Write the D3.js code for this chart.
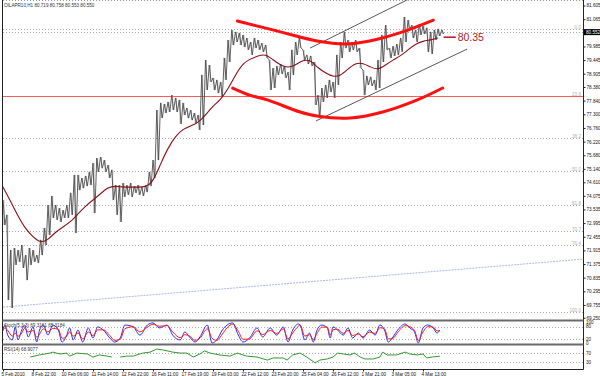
<!DOCTYPE html>
<html><head><meta charset="utf-8">
<script src="https://cdn.jsdelivr.net/npm/d3@7"></script>
<style>
body{margin:0;background:#fff;}
svg{display:block;font-family:"Liberation Sans",Arial,sans-serif;}
</style></head>
<body><svg id="c" width="600" height="376"></svg>
<script>
// ---------------- DATA ----------------
const symbolTitle = "OILAPR10,H1  80.719 80.758 80.553 80.550";
const barsPerSample = 4;   // price samples every 4 hourly bars
const priceHigh = [73.91,73.32,71.93,72.01,71.93,72.13,71.73,72.01,71.93,71.73,
72.33,72.80,73.71,74.07,73.71,73.59,73.51,73.71,74.19,74.90,
74.90,74.78,74.86,75.02,75.37,75.57,75.61,75.49,75.29,75.10,
74.50,74.50,74.58,74.50,74.58,74.46,74.50,74.42,74.50,75.02,
75.49,77.47,77.75,77.71,77.79,78.06,77.95,77.87,77.75,77.55,
77.47,77.35,77.27,78.86,79.45,79.25,78.74,78.66,78.58,79.53,
80.24,80.64,80.56,80.52,80.44,80.32,80.16,80.32,80.24,80.12,
80.04,79.45,79.13,79.21,79.29,79.21,78.97,79.85,80.16,80.32,
79.85,79.65,79.61,79.37,78.06,78.34,78.46,78.66,78.58,79.65,
80.16,80.56,80.24,80.16,80.24,79.92,79.05,78.82,78.78,78.66,
79.45,80.44,80.83,79.92,80.00,80.08,80.32,81.15,81.03,80.83,
80.64,80.87,80.79,80.72,80.56,80.64,80.68,80.64];
const priceLow = [72.92,69.95,69.64,71.34,71.46,71.22,70.74,71.34,71.46,71.42,
71.73,72.13,72.52,73.20,73.12,73.04,73.20,73.20,73.32,72.60,
74.30,74.38,74.46,74.50,73.39,75.02,75.17,75.02,74.78,73.91,
73.32,73.04,74.03,74.11,74.03,74.19,74.11,74.07,74.22,74.46,
74.78,75.49,77.15,77.35,77.39,77.47,77.39,76.92,77.27,77.15,
77.07,76.96,76.68,76.88,78.26,78.58,78.26,78.14,77.98,78.66,
79.37,80.04,80.16,80.04,79.96,79.85,79.65,79.92,79.85,79.77,
79.53,78.26,78.34,78.86,78.90,78.74,78.26,78.86,79.65,79.92,
79.45,79.29,79.21,77.67,77.15,77.79,77.95,78.18,77.95,78.46,
79.53,79.92,79.77,79.85,79.77,79.13,78.06,78.46,78.42,78.26,
78.34,79.37,79.85,79.53,79.61,79.65,79.77,80.16,80.64,80.32,
80.16,80.44,80.48,79.77,79.69,80.24,80.40,80.48];
const maBarsPerSample = 8;
const movingAvg = [74.42,73.87,73.27,72.76,72.45,72.21,72.33,72.64,72.84,73.04,
73.36,73.67,73.91,74.15,74.42,74.46,74.42,74.42,74.42,74.42,
74.62,75.33,75.97,76.44,76.72,76.84,76.96,77.27,77.63,77.87,
78.30,78.86,79.33,79.49,79.61,79.69,79.45,79.25,79.13,79.25,
79.45,79.45,79.13,78.94,78.78,78.82,79.09,79.33,79.33,79.17,
79.05,79.25,79.45,79.61,79.85,80.08,80.20,80.24,80.32];
const maLabel = "80.35";
const maLabelValue = 80.35;
const currentPrice = 80.552;

const priceTicks = [81.605,81.065,79.985,79.445,78.905,78.380,77.840,77.300,76.760,76.220,
75.680,75.140,74.610,74.075,73.535,72.995,72.455,71.915,71.375,70.835,70.295,69.755,69.250];

const fibValues = [80.68,78.03,76.38,75.06,73.73,72.68,72.11,69.46];
const fibLabels = ["0.0","23.6","38.2","50.0","61.8","70.7","76.4","100.0"];

const dateBars = [0,32,64,96,128,160,192,224,256,288,320,352,384,416,448];
const dateLabels = ["5 Feb 2010","8 Feb 22:00","10 Feb 06:00","11 Feb 14:00","12 Feb 22:00",
"16 Feb 11:00","17 Feb 19:00","19 Feb 03:00","22 Feb 12:00","23 Feb 20:00",
"25 Feb 04:00","26 Feb 12:00","1 Mar 21:00","3 Mar 05:00","4 Mar 13:00"];

// drawn annotations (bar index, price)
const upperArcBars = [250,292,335,365,391,423,459];
const upperArcPrices = [80.99,80.60,80.20,80.08,80.20,80.52,81.03];
const lowerArcBars = [245,263,282,317,335,370,405,442,469];
const lowerArcPrices = [78.34,78.06,77.87,77.39,77.23,77.15,77.39,77.87,78.34];
const channelUpperBars = [327.5,434];
const channelUpperPrices = [79.92,81.88];
const channelLowerBars = [334,495];
const channelLowerPrices = [77.04,79.88];
const trendBars = [0,618.7];
const trendPrices = [69.67,71.57];

// stochastic
const stochTitle = "Stoch(5,3,3) 69.3161 65.3184";
const stochBars = [0,2,5,10,13,16,20,23,27,32,36,39,43,48,53,59,63,68,71,75,80,85,91,96,101,107,114,119,125,130,
139,146,154,160,167,175,181,189,194,199,205,210,218,223,228,234,239,245,251,256,263,271,277,285,292,299,304,309,315,317,
322,327,331,335,340,346,349,352,357,363,368,373,379,384,391,397,402,407,411,416,421,429,434,439,443,448,453,459,463,466];
const stochMain = [64,88,40,17,79,17,64,88,31,79,7,64,88,40,88,64,7,40,74,17,64,7,74,26,79,64,26,7,26,88,
79,40,88,98,74,88,40,17,55,31,7,31,88,2,17,64,88,98,40,7,26,74,31,74,40,79,7,64,93,88,
17,50,7,64,88,74,26,79,64,40,74,26,50,26,64,40,88,64,7,31,64,93,74,55,2,74,88,74,50,64];
const stochSignal = [60,75,62,35,50,35,50,72,55,62,30,45,70,55,72,68,25,35,55,35,50,22,55,38,65,65,38,15,20,70,
80,55,78,92,82,85,55,28,42,35,15,25,70,25,15,45,75,92,58,20,22,60,42,62,48,70,22,50,82,88,
35,42,18,48,78,78,40,65,68,48,62,38,45,32,55,48,75,70,22,25,52,85,80,62,15,55,80,78,60,62];
const stochLevels = [80,20];
const stochAxis = [100,80,20,0];

// RSI
const rsiTitle = "RSI(14) 68.9077";
const rsiBars = [29,39,50,53,61,68,71,79,90,96,103,111,116,120,125,132,139,149,157,164,171,181,189,196,203,210,215,221,231,242,
250,260,271,282,288,299,303,309,317,324,333,338,346,352,357,363,370,375,381,386,395,402,405,410,420,429,434,442,448,452,458,466];
const rsiValues = [53,62,70,74,66,70,57,70,66,53,62,57,53,null,53,57,57,70,74,87,83,74,70,70,53,66,79,70,62,57,
70,57,53,40,49,49,40,62,70,53,28,40,45,53,70,66,62,70,53,45,45,53,74,62,62,74,66,62,66,49,53,57];
const rsiLevels = [70,30];

// ---------------- DRAW ----------------
const svg = d3.select("#c");
const L = 3, R = 583;
const x = d3.scaleLinear().domain([0, 618.7]).range([L, R]);
const y = d3.scaleLinear().domain([69.2, 81.823]).range([319, 0]);
const yS = d3.scaleLinear().domain([0, 100]).range([343.5, 322.5]);
const yR = d3.scaleLinear().domain([0, 100]).range([369.5, 346]);
const FS = "4.6px";

const defs = svg.append("defs");
defs.append("clipPath").attr("id","cm").append("rect").attr("x",L).attr("y",0).attr("width",R-L).attr("height",319.5);
defs.append("clipPath").attr("id","cs").append("rect").attr("x",L).attr("y",321.5).attr("width",R-L).attr("height",22.5);
defs.append("clipPath").attr("id","cr").append("rect").attr("x",L).attr("y",345.5).attr("width",R-L).attr("height",23.5);

const main = svg.append("g").attr("clip-path","url(#cm)");

// top dotted line
main.append("line").attr("x1",L).attr("x2",R).attr("y1",0.5).attr("y2",0.5)
  .attr("stroke","#999").attr("stroke-dasharray","1,2");

// fib levels
fibValues.forEach((v,i)=>{
  const isRed = fibLabels[i]==="23.6";
  main.append("line").attr("x1",L).attr("x2",R).attr("y1",Math.round(y(v))+0.5).attr("y2",Math.round(y(v))+0.5)
    .attr("stroke", isRed ? "#ff3030" : "#aaa")
    .attr("stroke-dasharray", isRed ? null : "1,2").attr("stroke-width",isRed ? 0.8 : 1);
  main.append("text").attr("x",R-2).attr("y",Math.round(y(v))-0.5).attr("text-anchor","end")
    .attr("font-size",FS).attr("fill","#b0b0b0").text(fibLabels[i]);
});
// current price line
main.append("line").attr("x1",L).attr("x2",R).attr("y1",Math.round(y(currentPrice))+0.5).attr("y2",Math.round(y(currentPrice))+0.5)
  .attr("stroke","#aaa").attr("stroke-dasharray","1,2");

// trend line (lavender)
main.append("line").attr("x1",x(trendBars[0])).attr("y1",y(trendPrices[0]))
  .attr("x2",x(trendBars[1])).attr("y2",y(trendPrices[1]))
  .attr("stroke","#aeb4f2").attr("stroke-width",1).attr("stroke-dasharray","2,1");

// price bars (dense H1 bars as zig-zag between highs and lows)
const zz = [];
priceHigh.forEach((h,i)=>{
  const b = i*barsPerSample;
  zz.push([x(b), y(h)]);
  zz.push([x(b+2), y(priceLow[i])]);
});
main.selectAll("line.bar").data(priceHigh).join("line").attr("class","bar")
  .attr("x1",(d,i)=>x(i*barsPerSample+1)).attr("x2",(d,i)=>x(i*barsPerSample+1))
  .attr("y1",d=>y(d)).attr("y2",(d,i)=>y(priceLow[i]))
  .attr("stroke","#8a8a8a").attr("stroke-width",0.7);
main.append("path").attr("d", d3.line()(zz)).attr("fill","none")
  .attr("stroke","#4e4e4e").attr("stroke-width",0.9);

// moving average
main.append("path").datum(movingAvg)
  .attr("d", d3.line().x((d,i)=>x(i*maBarsPerSample)).y(d=>y(d)).curve(d3.curveBasis))
  .attr("fill","none").attr("stroke","#8b0f14").attr("stroke-width",1.1);

// channel lines
[[channelUpperBars,channelUpperPrices],[channelLowerBars,channelLowerPrices]].forEach(([b,p])=>{
  main.append("line").attr("x1",x(b[0])).attr("y1",y(p[0])).attr("x2",x(b[1])).attr("y2",y(p[1]))
    .attr("stroke","#444").attr("stroke-width",0.9);
});

// red arcs
[[upperArcBars,upperArcPrices],[lowerArcBars,lowerArcPrices]].forEach(([b,p])=>{
  main.append("path").datum(b.map((v,i)=>[x(v),y(p[i])]))
    .attr("d", d3.line().curve(d3.curveCatmullRom))
    .attr("fill","none").attr("stroke","#ff1010").attr("stroke-width",3).attr("stroke-linecap","round");
});

// MA label
const lastMA = (movingAvg.length-1)*maBarsPerSample;
svg.append("line").attr("x1",x(lastMA+6)).attr("x2",x(lastMA+19)).attr("y1",y(maLabelValue)).attr("y2",y(maLabelValue))
  .attr("stroke","#b0202c").attr("stroke-width",1.6);
svg.append("text").attr("x",x(lastMA+21)).attr("y",y(maLabelValue)+4)
  .attr("font-size","10.5px").attr("fill","#b0202c").text(maLabel);

// title
svg.append("text").attr("x",4).attr("y",6.5).attr("font-size",FS).attr("fill","#333").text(symbolTitle);

// ---------- stochastic panel ----------
const st = svg.append("g");
stochLevels.forEach(v=>{
  st.append("line").attr("x1",L).attr("x2",R).attr("y1",Math.round(yS(v))+0.5).attr("y2",Math.round(yS(v))+0.5)
    .attr("stroke","#aaa").attr("stroke-dasharray","1,2");
});
const stg = st.append("g").attr("clip-path","url(#cs)");
stg.append("path").datum(stochMain)
  .attr("d", d3.line().x((d,i)=>x(stochBars[i])).y(d=>yS(d)).curve(d3.curveMonotoneX))
  .attr("fill","none").attr("stroke","#2a2aff").attr("stroke-width",1);
stg.append("path").datum(stochSignal)
  .attr("d", d3.line().x((d,i)=>x(stochBars[i])).y(d=>yS(d)).curve(d3.curveMonotoneX))
  .attr("fill","none").attr("stroke","#ff1a1a").attr("stroke-width",1);
st.append("text").attr("x",4).attr("y",326.5).attr("font-size",FS).attr("fill","#333").text(stochTitle);

// ---------- RSI panel ----------
const rs = svg.append("g");
rsiLevels.forEach(v=>{
  rs.append("line").attr("x1",L).attr("x2",R).attr("y1",Math.round(yR(v))+0.5).attr("y2",Math.round(yR(v))+0.5)
    .attr("stroke","#aaa").attr("stroke-dasharray","1,2");
});
rs.append("g").attr("clip-path","url(#cr)").append("path").datum(rsiValues)
  .attr("d", d3.line().defined(d=>d!==null).x((d,i)=>x(rsiBars[i])).y(d=>yR(d)))
  .attr("fill","none").attr("stroke","#2f9a2f").attr("stroke-width",1);
rs.append("text").attr("x",4).attr("y",350.5).attr("font-size",FS).attr("fill","#333").text(rsiTitle);

// ---------- frames ----------
svg.append("line").attr("x1",2.5).attr("x2",2.5).attr("y1",0).attr("y2",369.5).attr("stroke","#222");
svg.append("line").attr("x1",R+0.5).attr("x2",R+0.5).attr("y1",0).attr("y2",369.5).attr("stroke","#222");
[320.5,344.5].forEach(v=>{
  svg.append("line").attr("x1",2.5).attr("x2",R+0.5).attr("y1",v).attr("y2",v).attr("stroke","#6a6a6a").attr("stroke-width",2);
});
svg.append("line").attr("x1",2.5).attr("x2",R+0.5).attr("y1",369.5).attr("y2",369.5).attr("stroke","#222");

// ---------- axes ----------
const ax = svg.append("g").attr("transform",`translate(${R+0.5},0)`)
  .call(d3.axisRight(y).tickValues(priceTicks).tickFormat(d=>d.toFixed(3)).tickSize(2).tickPadding(1));
ax.select(".domain").remove();
ax.selectAll("text").attr("font-size",FS).attr("fill","#111").attr("font-family","Liberation Sans, Arial, sans-serif");
ax.selectAll("line").attr("stroke","#222");

// current price tag
svg.append("rect").attr("x",R+1).attr("y",y(currentPrice)-3).attr("width",16).attr("height",6).attr("fill","#000");
svg.append("text").attr("x",R+3).attr("y",y(currentPrice)+1.6).attr("font-size",FS).attr("fill","#fff").text(currentPrice.toFixed(3));

// indicator axes
stochAxis.forEach(v=>{
  svg.append("text").attr("x",R+3).attr("y",yS(v)+1.6).attr("font-size",FS).attr("fill","#111").text(v);
});
rsiLevels.forEach(v=>{
  svg.append("text").attr("x",R+3).attr("y",yR(v)+1.6).attr("font-size",FS).attr("fill","#111").text(v);
});

// date axis
const dx = svg.append("g").attr("transform","translate(0,369.5)")
  .call(d3.axisBottom(x).tickValues(dateBars).tickFormat((d,i)=>dateLabels[i]).tickSize(2).tickPadding(1));
dx.select(".domain").remove();
dx.selectAll("text").attr("font-size",FS).attr("fill","#111").attr("text-anchor","start")
  .attr("dx","-2").attr("font-family","Liberation Sans, Arial, sans-serif");
dx.selectAll("line").attr("stroke","#222");
</script>
</body></html>
